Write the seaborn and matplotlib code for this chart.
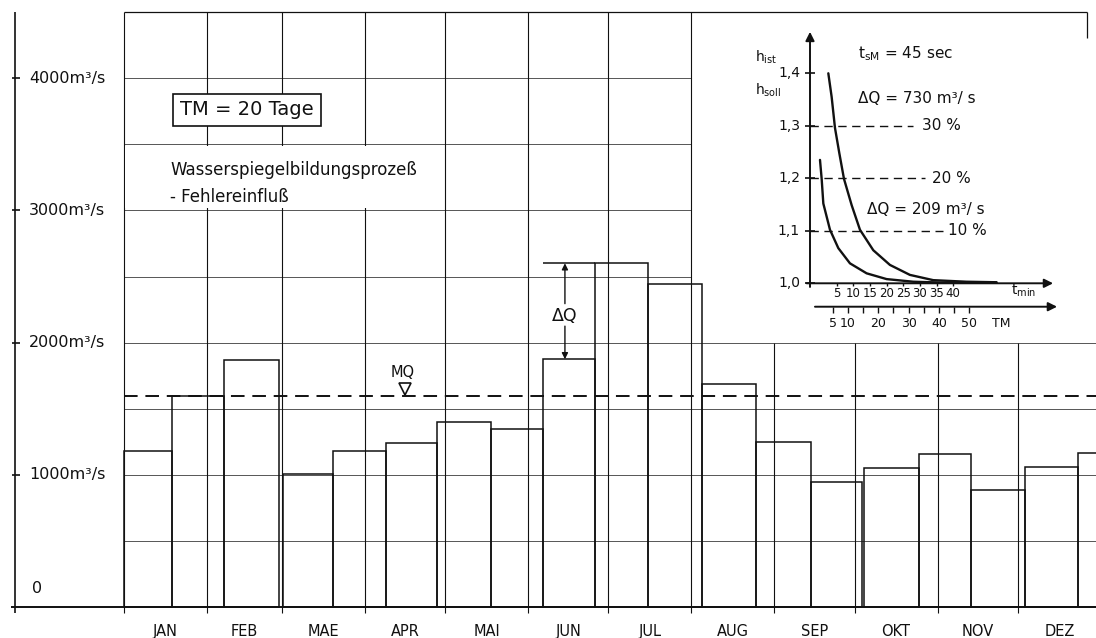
import numpy as np
import matplotlib
matplotlib.use("Agg")
import matplotlib.pyplot as plt
import seaborn as sns
from matplotlib.patches import Rectangle

# ── Data: 20-day mean discharge (TM = 20 Tage), x in days from 1 Jan ──
bar_left = [0, 18, 37.6, 59.6, 78, 97.9, 117, 137, 156.5, 176, 196, 216,
            236, 256.6, 276.5, 297, 316.5, 336.5, 356.3]
bar_right = [18, 37.6, 57.9, 78, 97.9, 117, 137, 156.5, 176, 196, 216, 236,
             256.6, 275.9, 297, 316.5, 336.5, 356.3, 377]
bar_q = [1180, 1600, 1870, 1010, 1180, 1240, 1400, 1345, 1875, 2600, 2440,
         1685, 1247, 950, 1050, 1155, 885, 1063, 1170]

mq = 1600
dq_low = 1875
dq_high = 2600

months = ["JAN", "FEB", "MAE", "APR", "MAI", "JUN", "JUL", "AUG", "SEP",
          "OKT", "NOV", "DEZ"]
month_days = [31, 28, 31, 30, 31, 30, 31, 31, 30, 31, 30, 31]

y_ticks = [1000, 2000, 3000, 4000]
y_labels = ["1000m³/s", "2000m³/s", "3000m³/s", "4000m³/s"]
grid_low = [500, 1000, 1500, 2000]
grid_high = [2500, 3000, 3500, 4000]
q_top = 4500

# ── Inset data: h_ist / h_soll over t_min ──
t_upper = [2.5, 3.5, 4.5, 5.8, 7.2, 9.5, 12.0, 16.0, 21.0, 27.0, 34.0, 44.0, 53.0]
h_upper = [1.400, 1.355, 1.296, 1.248, 1.199, 1.149, 1.102, 1.063, 1.035,
           1.016, 1.006, 1.003, 1.002]
t_lower = [0.0, 0.5, 1.0, 3.0, 5.5, 9.0, 14.0, 20.0, 28.0, 36.0, 53.0]
h_lower = [1.235, 1.199, 1.152, 1.102, 1.067, 1.038, 1.019, 1.008, 1.003,
           1.0015, 1.0015]

levels = [1.3, 1.2, 1.1]
level_labels = ["30 %", "20 %", "10 %"]
level_end = [28, 31.5, 37]
level_text_t = [30.5, 33.5, 38.5]

h_ticks = [1.0, 1.1, 1.2, 1.3, 1.4]
h_tick_labels = ["1,0", "1,1", "1,2", "1,3", "1,4"]
t_ticks = [5, 10, 15, 20, 25, 30, 35, 40]
tm_ticks = [5, 10, 15, 20, 25, 30, 35, 40, 45, 50]
tm_labels = [5, 10, 20, 30, 40, 50]

# ── Style ──
sns.set_theme(style="white")
plt.rcParams["font.family"] = ["DejaVu Sans"]
plt.rcParams["mathtext.default"] = "regular"
ink = "#111111"

fig = plt.figure(figsize=(10.96, 6.38), dpi=100)
ax = fig.add_axes([0, 0, 1, 1])
ax.set_xlim(-46.25, 363.2)
ax.set_ylim(-232, 4590)
ax.axis("off")

month_start = np.cumsum([0] + month_days[:-1])
month_mid = month_start + np.array(month_days) / 2

# grid
ax.hlines(grid_low, 0, 363.2, color="#555555", lw=0.7, zorder=1)
ax.hlines(grid_high, 0, month_start[7], color="#555555", lw=0.7, zorder=1)
ax.hlines(q_top, 0, 359.8, color=ink, lw=0.9, zorder=1)
ax.vlines(359.8, 4300, q_top, color=ink, lw=0.9, zorder=1)
ax.vlines(month_start[:8], -45, q_top, color=ink, lw=0.8, zorder=1)
ax.vlines(month_start[8:], -45, 2000, color=ink, lw=0.8, zorder=1)

# left value axis
ax.vlines(-40.6, -45, q_top, color=ink, lw=1.2, zorder=2)
ax.hlines(y_ticks, -41.8, -38.6, color=ink, lw=1.2, zorder=2)
for q, lab in zip(y_ticks, y_labels):
    ax.text(-35.4, q, lab, ha="left", va="center", fontsize=11.5, color=ink)
ax.text(-32.3, 140, "0", ha="center", va="center", fontsize=11.5, color=ink)

# baseline + month names
ax.hlines(0, -42, 363.2, color=ink, lw=1.4, zorder=3)
for m, x in zip(months, month_mid):
    ax.text(x, -180, m, ha="center", va="center", fontsize=10.5, color=ink)

# white field behind the title text
ax.add_patch(Rectangle((0.4, 3015), 117, 470, fc="white", ec="none", zorder=1.5))

# bars
widths = np.array(bar_right) - np.array(bar_left)
ax.bar(bar_left, bar_q, width=widths, align="edge", fill=False,
       edgecolor=ink, lw=1.1, zorder=2)

# MQ line
ax.hlines(mq, 0, 363.2, color=ink, lw=1.4, linestyles=(0, (7, 4)), zorder=3)
ax.text(104.3, 1775, "MQ", ha="center", va="center", fontsize=10.5,
        color=ink, zorder=4)
ax.plot([105], [1652], marker="v", ms=8, mfc="white", mec=ink, mew=1.2,
        zorder=4)

# ΔQ annotation
ax.hlines(dq_high, 156.6, 176, color=ink, lw=1.1, zorder=2)
ax.annotate("", xy=(164.8, dq_high), xytext=(164.8, 2295),
            arrowprops=dict(arrowstyle="-|>", color=ink, lw=1.0,
                            mutation_scale=9, shrinkA=0, shrinkB=0))
ax.annotate("", xy=(164.8, dq_low), xytext=(164.8, 2125),
            arrowprops=dict(arrowstyle="-|>", color=ink, lw=1.0,
                            mutation_scale=9, shrinkA=0, shrinkB=0))
ax.text(164.8, 2205, "ΔQ", ha="center", va="center", fontsize=12.5, color=ink)

# titles
ax.text(46.0, 3759, "TM = 20 Tage", ha="center", va="center", fontsize=14,
        color=ink, zorder=4,
        bbox=dict(boxstyle="square,pad=0.35", fc="white", ec=ink, lw=1.2))
ax.text(17.3, 3304, "Wasserspiegelbildungsprozeß", ha="left", va="center",
        fontsize=12, color=ink, zorder=4)
ax.text(17.3, 3104, "- Fehlereinfluß", ha="left", va="center",
        fontsize=12, color=ink, zorder=4)

# ── Inset ──
rect = [740 / 1096, (638 - 340) / 638, 356 / 1096, 320 / 638]
axi = fig.add_axes(rect)
axi.set_xlim(-24.02, 82.88)
axi.set_ylim(0.892, 1.5015)
axi.axis("off")
axi.patch.set_alpha(0)

arrow = dict(arrowstyle="-|>", color=ink, lw=1.4, mutation_scale=13,
             shrinkA=0, shrinkB=0)
axi.annotate("", xy=(-3.0, 1.479), xytext=(-3.0, 0.993), arrowprops=arrow)
axi.annotate("", xy=(70, 1.0), xytext=(-4.0, 1.0), arrowprops=arrow)

axi.hlines(h_ticks, -4.5, -1.5, color=ink, lw=1.2)
for h, lab in zip(h_ticks, h_tick_labels):
    axi.text(-6.0, h, lab, ha="right", va="center", fontsize=10, color=ink)

for h, end, lab, tx in zip(levels, level_end, level_labels, level_text_t):
    axi.hlines(h, -3.0, end, color=ink, lw=1.0, linestyles=(0, (6, 4)))
    axi.text(tx, h, lab, ha="left", va="center", fontsize=11, color=ink)

sns.lineplot(x=t_upper, y=h_upper, ax=axi, color=ink, lw=1.7,
             sort=False, estimator=None)
sns.lineplot(x=t_lower, y=h_lower, ax=axi, color=ink, lw=1.7,
             sort=False, estimator=None)

axi.vlines(t_ticks, 0.994, 1.0, color=ink, lw=1.0)
for t in t_ticks:
    axi.text(t, 0.981, str(t), ha="center", va="center", fontsize=8.5,
             color=ink)
axi.text(57.5, 0.985, "$t_{min}$", ha="left", va="center", fontsize=10,
         color=ink)

axi.text(11.5, 1.438, "$t_{sM}$ = 45 sec", ha="left", va="center",
         fontsize=11, color=ink)
axi.text(11.5, 1.352, "ΔQ = 730 m³/ s", ha="left", va="center",
         fontsize=11, color=ink)
axi.text(14.0, 1.140, "ΔQ = 209 m³/ s", ha="left", va="center",
         fontsize=11, color=ink)
axi.text(-19.5, 1.431, "$h_{ist}$", ha="left", va="center", fontsize=10,
         color=ink)
axi.text(-19.5, 1.368, "$h_{soll}$", ha="left", va="center", fontsize=10,
         color=ink)

# second time axis in TM units
axt = fig.add_axes(rect)
axt.set_xlim(-25.64, 91.85)
axt.set_ylim(0.892, 1.5015)
axt.axis("off")
axt.patch.set_alpha(0)
axt.annotate("", xy=(79, 0.9554), xytext=(-0.9, 0.9554), arrowprops=arrow)
axt.vlines(tm_ticks, 0.943, 0.9554, color=ink, lw=1.0)
for tm in tm_labels:
    axt.text(tm, 0.9238, str(tm), ha="center", va="center", fontsize=9,
             color=ink)
axt.text(60.7, 0.9238, "TM", ha="center", va="center", fontsize=9, color=ink)

fig.savefig("out.png", dpi=100)
